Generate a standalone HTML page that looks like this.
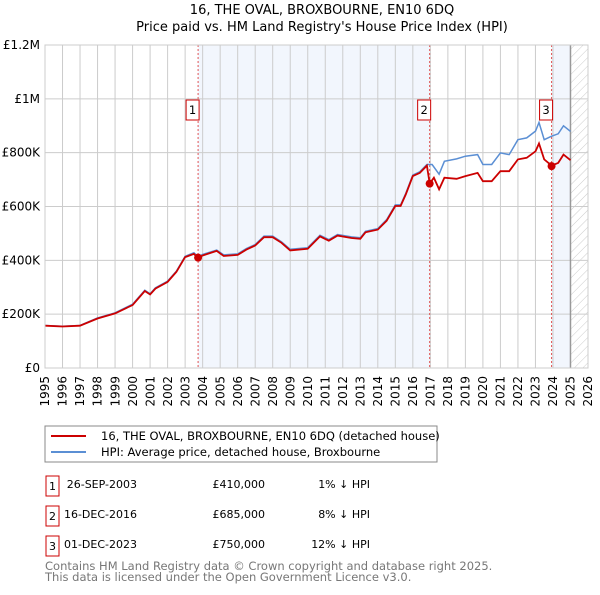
<!DOCTYPE html>
<html><head><meta charset="utf-8"><style>
body{margin:0;background:#fff;font-family:"Liberation Sans","DejaVu Sans",sans-serif;}
svg text{font-family:"DejaVu Sans","Liberation Sans",sans-serif;}
</style></head><body>
<svg id="c" width="600" height="590" xmlns="http://www.w3.org/2000/svg">
<defs><pattern id="hatch" width="6" height="6" patternUnits="userSpaceOnUse" patternTransform="rotate(45)"><line x1="0" y1="0" x2="0" y2="6" stroke="#ccc" stroke-width="1"/></pattern></defs>
<text x="322" y="14" text-anchor="middle" font-size="13">16, THE OVAL, BROXBOURNE, EN10 6DQ</text>
<text x="322" y="31" text-anchor="middle" font-size="13">Price paid vs. HM Land Registry's House Price Index (HPI)</text>
<g id="grid"></g><g id="marks"></g><g id="axes"></g>
<rect x="45" y="426" width="392" height="36" fill="#fff" stroke="#888"/>
<line x1="51" y1="436" x2="86" y2="436" stroke="#cc0000" stroke-width="2"/>
<text x="101" y="440" font-size="11.5">16, THE OVAL, BROXBOURNE, EN10 6DQ (detached house)</text>
<line x1="51" y1="452" x2="86" y2="452" stroke="#5b8fd4" stroke-width="2"/>
<text x="101" y="456" font-size="11.5">HPI: Average price, detached house, Broxbourne</text>
<g font-size="11">
<rect x="46" y="476" width="13" height="20" fill="#fff" stroke="#cc0000"/><text x="52.5" y="490" text-anchor="middle">1</text>
<text x="137" y="488" text-anchor="end">26-SEP-2003</text><text x="265" y="488" text-anchor="end">£410,000</text><text x="370" y="488" text-anchor="end">1% ↓ HPI</text>
<rect x="46" y="506" width="13" height="20" fill="#fff" stroke="#cc0000"/><text x="52.5" y="520" text-anchor="middle">2</text>
<text x="137" y="518" text-anchor="end">16-DEC-2016</text><text x="265" y="518" text-anchor="end">£685,000</text><text x="370" y="518" text-anchor="end">8% ↓ HPI</text>
<rect x="46" y="536" width="13" height="20" fill="#fff" stroke="#cc0000"/><text x="52.5" y="550" text-anchor="middle">3</text>
<text x="137" y="548" text-anchor="end">01-DEC-2023</text><text x="265" y="548" text-anchor="end">£750,000</text><text x="370" y="548" text-anchor="end">12% ↓ HPI</text>
</g>
<text x="45" y="570" font-size="11.5" fill="#777">Contains HM Land Registry data © Crown copyright and database right 2025.</text>
<text x="45" y="581" font-size="11.5" fill="#777">This data is licensed under the Open Government Licence v3.0.</text>
</svg>
<script>
const yearTicks=[1995,1996,1997,1998,1999,2000,2001,2002,2003,2004,2005,2006,2007,2008,2009,2010,2011,2012,2013,2014,2015,2016,2017,2018,2019,2020,2021,2022,2023,2024,2025,2026];
const valueTicks=[0,200000,400000,600000,800000,1000000,1200000];
const valueTickLabels=["£0","£200K","£400K","£600K","£800K","£1M","£1.2M"];
const priceYears=[1995,1996,1997,1998,1999,2000,2000.7,2001,2001.3,2002,2002.5,2003,2003.5,2003.74,2004,2004.8,2005.2,2006,2006.5,2007,2007.5,2008,2008.5,2009,2010,2010.7,2011.2,2011.7,2012.5,2013,2013.3,2014,2014.5,2015,2015.3,2015.6,2016,2016.4,2016.8,2016.96,2017.2,2017.5,2017.8,2018.5,2019,2019.7,2020,2020.5,2021,2021.5,2022,2022.5,2023,2023.2,2023.5,2023.92,2024.3,2024.6,2025];
const priceValues=[157000,154000,157000,184000,203000,234000,286000,273000,295000,320000,357000,412000,424000,408000,418000,435000,416000,420000,440000,455000,486000,486000,465000,437000,443000,489000,473000,492000,483000,480000,504000,514000,547000,602000,602000,645000,713000,725000,752000,685000,707000,664000,707000,703000,713000,725000,694000,694000,731000,731000,775000,781000,805000,834000,775000,752000,762000,793000,772000];
const hpiYears=[1995,1996,1997,1998,1999,2000,2000.7,2001,2001.3,2002,2002.5,2003,2003.5,2003.74,2004,2004.8,2005.2,2006,2006.5,2007,2007.5,2008,2008.5,2009,2010,2010.7,2011.2,2011.7,2012.5,2013,2013.3,2014,2014.5,2015,2015.3,2015.6,2016,2016.4,2016.8,2017.1,2017.5,2017.8,2018.5,2019,2019.7,2020,2020.5,2021,2021.5,2022,2022.5,2023,2023.2,2023.5,2023.92,2024.3,2024.6,2025];
const hpiValues=[158000,155000,158000,186000,205000,237000,289000,276000,298000,323000,360000,415000,428000,414000,422000,438000,420000,424000,444000,459000,490000,490000,469000,441000,447000,493000,477000,496000,487000,484000,508000,518000,551000,606000,606000,649000,717000,729000,756000,756000,720000,768000,777000,787000,793000,756000,756000,799000,793000,848000,855000,880000,912000,848000,861000,870000,900000,879000];
const saleYears=[2003.74,2016.96,2023.92];
const saleValues=[410000,685000,750000];
const saleLabels=["1","2","3"];
const NS="http://www.w3.org/2000/svg";
const X=y=>45+(y-1995)*543/31, Y=v=>368-v/1200000*323;
function mk(p,t,a){const e=document.createElementNS(NS,t);for(const k in a)e.setAttribute(k,a[k]);p.appendChild(e);return e;}
const grid=document.getElementById('grid'),marks=document.getElementById('marks'),axes=document.getElementById('axes');
let r;
r=mk(grid,'rect',{x:X(2003.74),y:45,width:X(2016.96)-X(2003.74),height:323,fill:'#eef3fc',opacity:0.75});


r=mk(grid,'rect',{x:X(2023.92),y:45,width:X(2025)-X(2023.92),height:323,fill:'#eef3fc',opacity:0.75});


r=mk(grid,'rect',{x:X(2025),y:45,width:X(2026)-X(2025),height:323,fill:'url(#hatch)'});


yearTicks.forEach(y=>{const l=mk(grid,'line',{x1:X(y),x2:X(y),y1:45,y2:368,stroke:'#ccc'});


const t=mk(axes,'text',{x:X(y),y:376,'font-size':12,'text-anchor':'end',transform:`rotate(-90 ${X(y)} 376)`,dy:'0.35em'});t.textContent=y;

});
valueTicks.forEach((v,i)=>{const l=mk(grid,'line',{x1:45,x2:588,y1:Y(v),y2:Y(v),stroke:'#ccc'});


const t=mk(axes,'text',{x:40,y:Y(v)+4,'font-size':12,'text-anchor':'end'});t.textContent=valueTickLabels[i];

});
r=mk(grid,'line',{x1:X(2025),x2:X(2025),y1:45,y2:368,stroke:'#999','stroke-width':1.5});


saleYears.forEach((y,i)=>{const l=mk(marks,'line',{x1:X(y),x2:X(y),y1:45,y2:368,stroke:'#e05555','stroke-dasharray':'2,2','stroke-width':1});

});
const path=(xs,vs)=>xs.map((y,i)=>(i?'L':'M')+X(y).toFixed(1)+','+Y(vs[i]).toFixed(1)).join('');
r=mk(marks,'path',{d:path(hpiYears,hpiValues),fill:'none',stroke:'#5b8fd4','stroke-width':1.5});


r=mk(marks,'path',{d:path(priceYears,priceValues),fill:'none',stroke:'#cc0000','stroke-width':1.8});


saleYears.forEach((y,i)=>{const c=mk(marks,'circle',{cx:X(y),cy:Y(saleValues[i]),r:4,fill:'#cc0000'});


const b=mk(marks,'rect',{x:X(y)-12,y:100,width:13,height:20,fill:'#fff',stroke:'#cc0000'});


const t=mk(marks,'text',{x:X(y)-5.5,y:114,'font-size':11.5,'text-anchor':'middle'});t.textContent=saleLabels[i];

});
r=mk(axes,'rect',{x:45,y:45,width:543,height:323,fill:'none',stroke:'#ccc'});


</script>
</body></html>
